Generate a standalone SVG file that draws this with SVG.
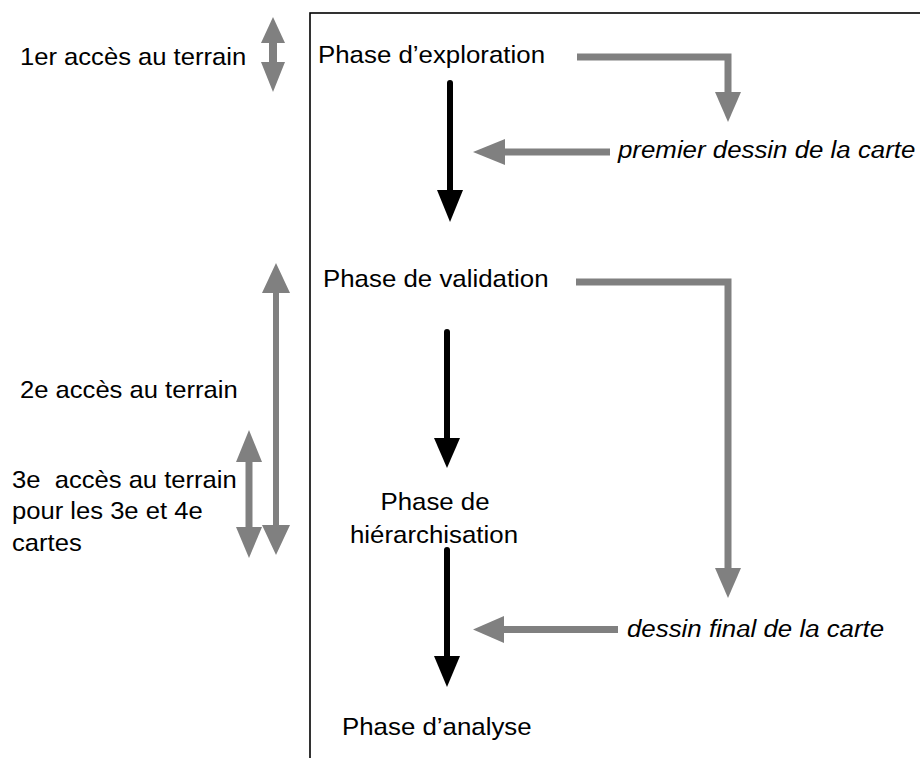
<svg xmlns="http://www.w3.org/2000/svg" width="920" height="758" viewBox="0 0 920 758">
<style>
text{font-family:"Liberation Sans",Arial,sans-serif;font-size:24px;fill:#000;white-space:pre}
.it{font-style:italic}
.g{stroke:#808080;stroke-width:7;fill:none}
.gh{fill:#808080}
.b{stroke:#000;stroke-width:6;fill:none;stroke-linecap:round}
.bh{fill:#000}
</style>
<rect width="920" height="758" fill="#fff"/>
<rect id="frame" x="310" y="13" width="700" height="800" fill="none" stroke="#000" stroke-width="1.6"/>
<g id="left-labels">
<text transform="translate(20,65) scale(1.067 1)">1er accès au terrain</text>
<text transform="translate(20,398) scale(1.067 1)">2e accès au terrain</text>
<text transform="translate(12,488) scale(1.067 1)">3e  accès au terrain</text>
<text transform="translate(12,519) scale(1.067 1)">pour les 3e et 4e</text>
<text transform="translate(12,551) scale(1.067 1)">cartes</text>
</g>
<g id="n-exploration"><text transform="translate(318,63) scale(1.077 1)">Phase d’exploration</text></g>
<g id="n-premier"><text class="it" transform="translate(618,158) scale(1.077 1)">premier dessin de la carte</text></g>
<g id="n-validation"><text transform="translate(323,287) scale(1.077 1)">Phase de validation</text></g>
<g id="n-hierarchisation">
<text text-anchor="middle" transform="translate(435,510) scale(1.077 1)">Phase de</text>
<text text-anchor="middle" transform="translate(434,543) scale(1.077 1)">hiérarchisation</text>
</g>
<g id="n-final"><text class="it" transform="translate(627,637) scale(1.077 1)">dessin final de la carte</text></g>
<g id="n-analyse"><text transform="translate(342,735) scale(1.077 1)">Phase d’analyse</text></g>
<g id="connectors">
<path class="g" d="M577,57 H728 V93"/>
<polygon class="gh" points="715,92 741,92 728,122"/>
<path class="g" d="M610,152 H504"/>
<polygon class="gh" points="505,139 505,165 473,152"/>
<path class="b" d="M450,83 V191"/>
<polygon class="bh" points="437,190 463,190 450,222"/>
<path class="g" d="M576,282 H728 V569"/>
<polygon class="gh" points="715,568 741,568 728,598"/>
<path class="g" d="M618,629.5 H503"/>
<polygon class="gh" points="504,616 504,643 473,629.5"/>
<path class="b" d="M447,332 V439"/>
<polygon class="bh" points="434,438 460,438 447,468"/>
<path class="b" d="M447,550 V657"/>
<polygon class="bh" points="434,656 460,656 447,687"/>
<path class="g" style="stroke-width:8" d="M273,42 V63"/>
<polygon class="gh" points="261,43 285,43 273,17"/>
<polygon class="gh" points="261,62 285,62 273,92"/>
<path class="g" style="stroke-width:6" d="M276,292 V526"/>
<polygon class="gh" points="262,293 290,293 276,263"/>
<polygon class="gh" points="262,525 290,525 276,555"/>
<path class="g" d="M249,461 V528"/>
<polygon class="gh" points="236,462 262,462 249,430"/>
<polygon class="gh" points="236,527 262,527 249,558"/>
</g>
</svg>
